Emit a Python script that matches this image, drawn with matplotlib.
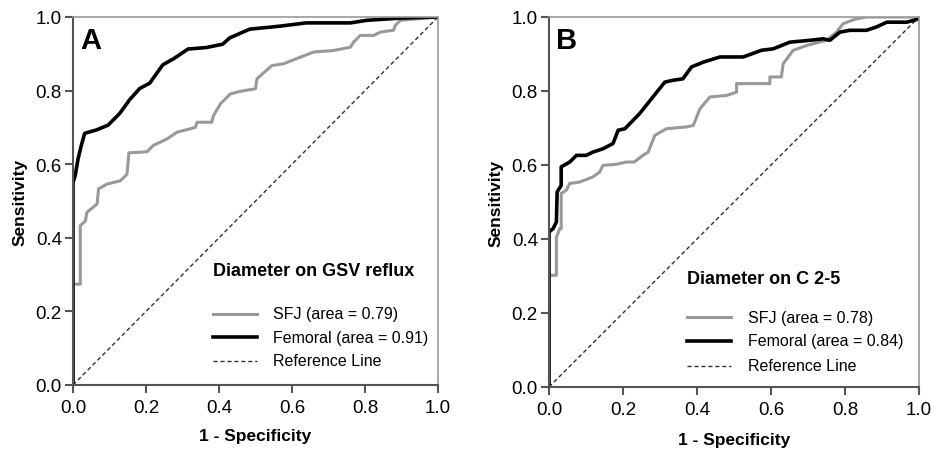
import matplotlib
matplotlib.use("Agg")
import matplotlib.pyplot as plt

plt.rcParams['font.family'] = ['Liberation Sans', 'DejaVu Sans']

# Panel A - Diameter on GSV reflux
a_sfj_x = [0, 0, 0.02, 0.02, 0.034, 0.038, 0.066, 0.07, 0.093, 0.13, 0.148, 0.153, 0.175, 0.203,
           0.22, 0.258, 0.285, 0.32, 0.335, 0.34, 0.38, 0.385, 0.404, 0.431, 0.458, 0.5, 0.504,
           0.53, 0.545, 0.577, 0.6, 0.623, 0.66, 0.714, 0.76, 0.769, 0.787, 0.824, 0.842, 0.878,
           0.883, 0.897, 0.942, 1.0]
a_sfj_y = [0, 0.274, 0.274, 0.433, 0.446, 0.469, 0.492, 0.533, 0.546, 0.555, 0.573, 0.631, 0.632,
           0.634, 0.651, 0.669, 0.687, 0.696, 0.70, 0.714, 0.714, 0.732, 0.764, 0.791, 0.798, 0.805,
           0.832, 0.855, 0.868, 0.873, 0.882, 0.891, 0.905, 0.909, 0.918, 0.932, 0.95, 0.95, 0.959,
           0.964, 0.977, 0.991, 0.995, 1.0]
a_fem_x = [0, 0, 0.006, 0.014, 0.023, 0.032, 0.064, 0.096, 0.128, 0.155, 0.183, 0.21, 0.246, 0.278,
           0.315, 0.365, 0.41, 0.429, 0.484, 0.566, 0.639, 0.76, 0.805, 0.897, 1.0]
a_fem_y = [0, 0.55, 0.569, 0.615, 0.652, 0.684, 0.693, 0.706, 0.738, 0.775, 0.806, 0.82, 0.87, 0.888,
           0.913, 0.917, 0.926, 0.943, 0.967, 0.975, 0.984, 0.984, 0.991, 0.997, 1.0]

# Panel B - Diameter on C 2-5
b_sfj_x = [0, 0, 0.02, 0.02, 0.029, 0.033, 0.033, 0.047, 0.056, 0.083, 0.119, 0.137, 0.146, 0.182,
           0.209, 0.23, 0.254, 0.268, 0.286, 0.317, 0.372, 0.39, 0.408, 0.435, 0.48, 0.507, 0.507,
           0.597, 0.597, 0.628, 0.633, 0.66, 0.696, 0.75, 0.777, 0.795, 0.827, 0.858, 1.0]
b_sfj_y = [0, 0.302, 0.302, 0.405, 0.428, 0.428, 0.523, 0.532, 0.55, 0.554, 0.568, 0.581, 0.599,
           0.602, 0.608, 0.608, 0.626, 0.635, 0.68, 0.698, 0.703, 0.707, 0.752, 0.784, 0.788, 0.797,
           0.82, 0.82, 0.838, 0.838, 0.874, 0.91, 0.923, 0.937, 0.959, 0.982, 0.994, 1.0, 1.0]
b_fem_x = [0, 0, 0.011, 0.02, 0.022, 0.033, 0.033, 0.056, 0.074, 0.1, 0.119, 0.146, 0.173, 0.187,
           0.205, 0.245, 0.281, 0.313, 0.335, 0.362, 0.385, 0.417, 0.462, 0.525, 0.574, 0.606, 0.651,
           0.705, 0.741, 0.759, 0.786, 0.813, 0.858, 0.885, 0.913, 0.967, 1.0]
b_fem_y = [0, 0.419, 0.428, 0.446, 0.527, 0.545, 0.595, 0.608, 0.626, 0.626, 0.635, 0.644, 0.658,
           0.694, 0.698, 0.739, 0.784, 0.824, 0.829, 0.833, 0.865, 0.878, 0.892, 0.892, 0.91, 0.914,
           0.932, 0.937, 0.941, 0.937, 0.959, 0.964, 0.964, 0.973, 0.986, 0.986, 0.995]

ticks = [0.0, 0.2, 0.4, 0.6, 0.8, 1.0]
tick_labels = ['0.0', '0.2', '0.4', '0.6', '0.8', '1.0']

panels = [
    ('A', 'Diameter on GSV reflux', a_sfj_x, a_sfj_y, a_fem_x, a_fem_y,
     ['SFJ (area = 0.79)', 'Femoral (area = 0.91)', 'Reference Line'],
     [73 / 931, (452 - 386) / 452, 365 / 931, 368 / 452],
     0.384, 0.311, [0.193, 0.13, 0.066], 9),
    ('B', 'Diameter on C 2-5', b_sfj_x, b_sfj_y, b_fem_x, b_fem_y,
     ['SFJ (area = 0.78)', 'Femoral (area = 0.84)', 'Reference Line'],
     [549 / 931, (452 - 388) / 452, 370 / 931, 370 / 452],
     0.372, 0.292, [0.188, 0.125, 0.058], 10),
]

fig = plt.figure(figsize=(9.31, 4.52), dpi=100)

for letter, title, sx, sy, fx, fy, labels, rect, tx, ty, rows, xpad in panels:
    ax = fig.add_axes(rect)
    ax.plot([0, 1], [0, 1], ls=(0, (3, 2)), color='#333333', lw=1)
    ax.plot(sx, sy, color='#999999', lw=2.2)
    ax.plot(fx, fy, color='black', lw=2.6)
    ax.set_xlim(0, 1)
    ax.set_ylim(0, 1)
    ax.set_xticks(ticks)
    ax.set_xticklabels(tick_labels)
    ax.set_yticks(ticks)
    ax.set_yticklabels(tick_labels)
    ax.tick_params(direction='out', length=6, width=1.5, color='#555555',
                   labelsize=13.5)
    ax.tick_params(axis='x', pad=4)
    ax.tick_params(axis='y', pad=2)
    for side in ['left', 'bottom']:
        ax.spines[side].set_color('#555555')
        ax.spines[side].set_linewidth(1.5)
    for side in ['top', 'right']:
        ax.spines[side].set_color('#999999')
        ax.spines[side].set_linewidth(1.2)
    ax.set_xlabel('1 - Specificity', fontsize=12.5, fontweight='bold', labelpad=xpad)
    ax.set_ylabel('Sensitivity', fontsize=12.5, fontweight='bold', labelpad=6)
    ax.text(0.02, 0.975, letter, transform=ax.transAxes, fontsize=21,
            fontweight='bold', va='top', ha='left')

    # legend
    ax.text(tx, ty, title, transform=ax.transAxes, fontsize=13,
            fontweight='bold', va='center', ha='left')
    styles = [dict(color='#999999', lw=2.2), dict(color='black', lw=2.6),
              dict(color='#333333', lw=1, ls=(0, (3, 2)))]
    for lab, st, ry in zip(labels, styles, rows):
        ax.plot([tx, tx + 0.12], [ry, ry], transform=ax.transAxes, **st)
        ax.text(tx + 0.165, ry, lab, transform=ax.transAxes, fontsize=11.5,
                va='center', ha='left')

fig.savefig('out.png', dpi=100)
